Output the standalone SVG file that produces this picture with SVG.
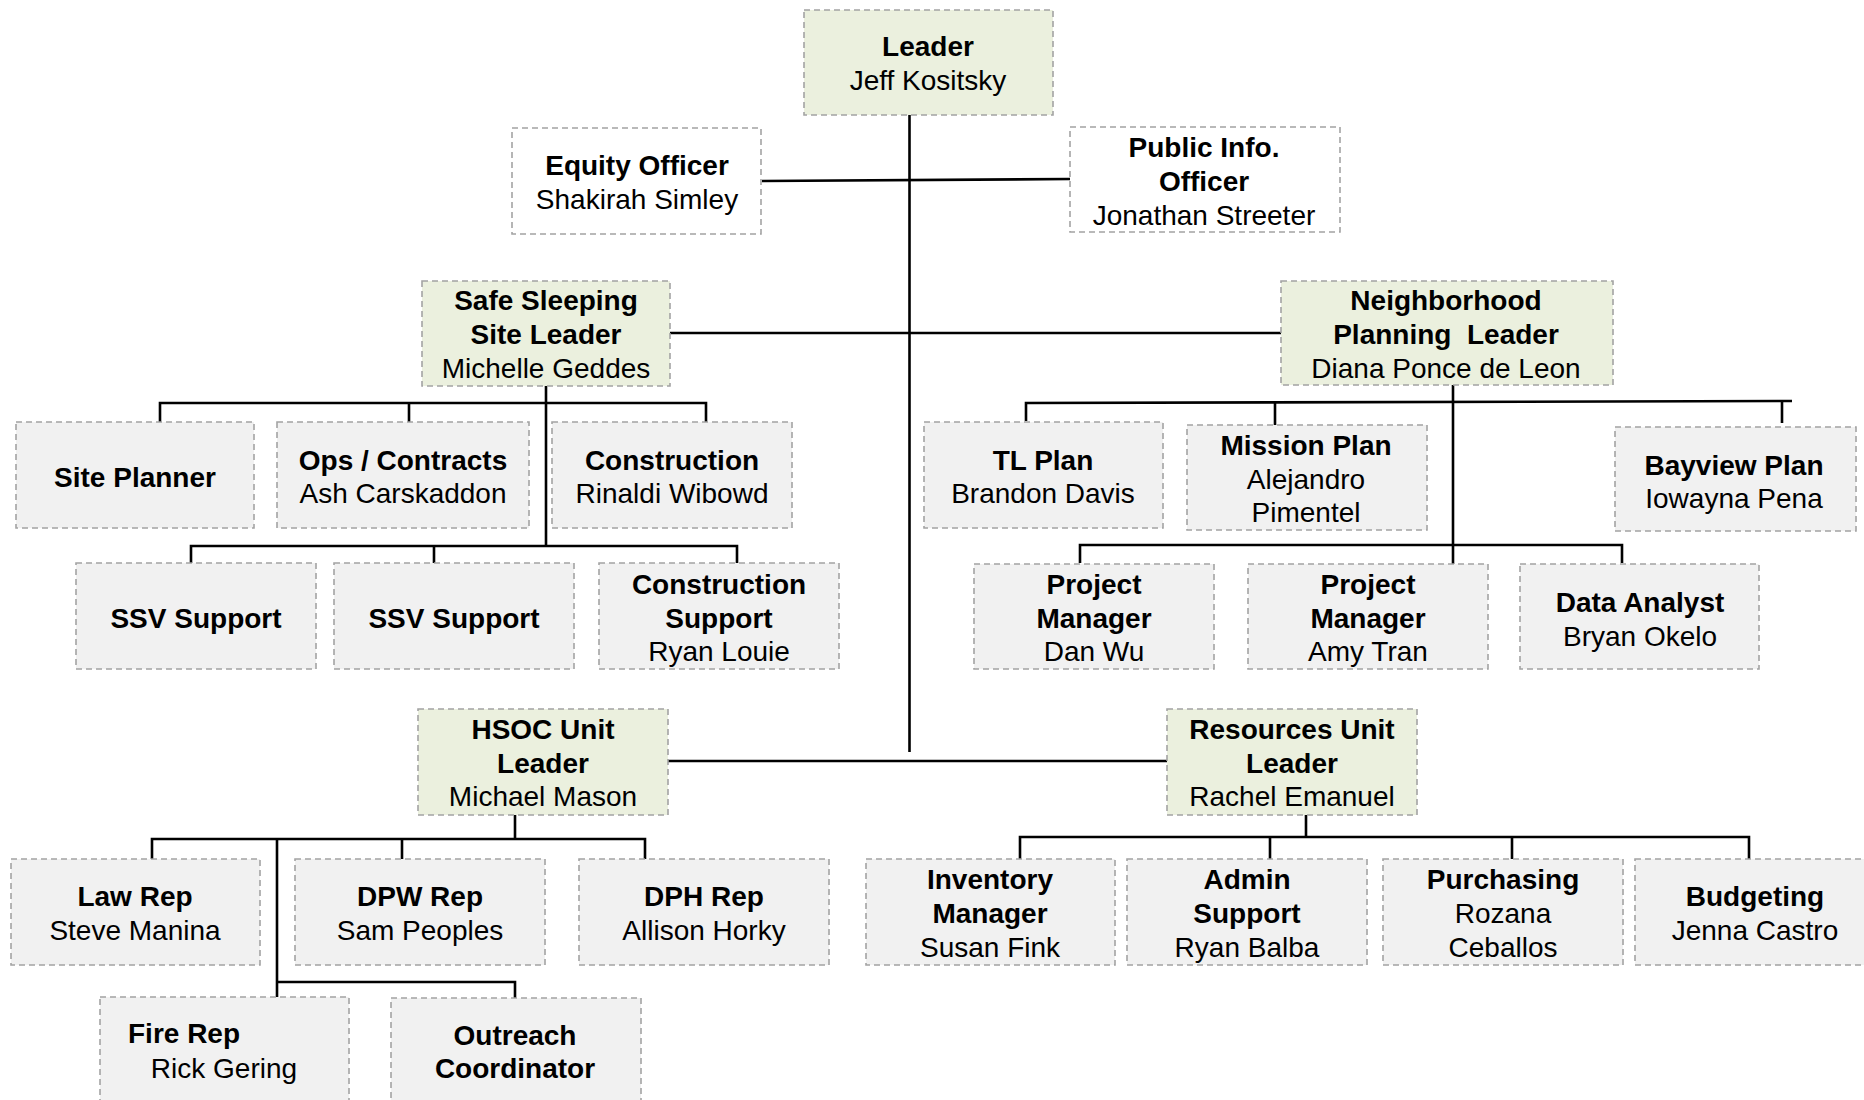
<svg xmlns="http://www.w3.org/2000/svg" width="1864" height="1100" viewBox="0 0 1864 1100">
<style>
rect{stroke:#a3a3a3;stroke-width:1.6;stroke-dasharray:6 4}
.lead{fill:#ebf0de}
.box{fill:#f1f1f1}
.off{fill:#ffffff}
text{font-family:"Liberation Sans",Arial,sans-serif;font-size:28px;fill:#000;text-anchor:middle}
.b{font-weight:bold}
.pre{white-space:pre}
#connectors path{fill:none;stroke:#000;stroke-width:2.6}
</style>
<rect x="0" y="0" width="1864" height="1100" style="fill:#fff;stroke:none"/>
<g id="connectors">
<path d="M909.5,107 V752"/>
<path d="M762,181 L1070,179"/>
<path d="M670,333 H1281"/>
<path d="M546,386 V546"/>
<path d="M160,422 V403 H706 V422 M409,403 V422"/>
<path d="M191,563 V546 H737 V563 M434,546 V565"/>
<path d="M1453,380 V564"/>
<path d="M1026,421 V403 L1792,401 M1275,402 V425 M1782,401 V423"/>
<path d="M1080,563 V545 H1622 V563"/>
<path d="M668,761 H1167"/>
<path d="M515,796 V839 M152,859 V839 H645 V859 M402,839 V859 M277,839 V997 M277,982 H515 V998"/>
<path d="M1306,798 V837 M1020,859 V837 H1749 V859 M1270,837 V859 M1512,837 V859"/>
</g>
<g id="leader"><rect class="lead" x="804" y="10" width="249" height="105"/><text class="b" x="928" y="56">Leader</text><text x="928" y="90">Jeff Kositsky</text></g>
<g id="equity"><rect class="off" x="512" y="128" width="249" height="106"/><text class="b" x="637" y="175">Equity Officer</text><text x="637" y="209">Shakirah Simley</text></g>
<g id="public"><rect class="off" x="1070" y="127" width="270" height="105"/><text class="b" x="1204" y="157">Public Info.</text><text class="b" x="1204" y="191">Officer</text><text x="1204" y="225">Jonathan Streeter</text></g>
<g id="sss"><rect class="lead" x="422" y="281" width="248" height="105"/><text class="b" x="546" y="310">Safe Sleeping</text><text class="b" x="546" y="344">Site Leader</text><text x="546" y="378">Michelle Geddes</text></g>
<g id="npl"><rect class="lead" x="1281" y="281" width="332" height="104"/><text class="b" x="1446" y="310">Neighborhood</text><text class="b pre" x="1446" y="344">Planning  Leader</text><text x="1446" y="378">Diana Ponce de Leon</text></g>
<g id="siteplanner"><rect class="box" x="16" y="422" width="238" height="106"/><text class="b" x="135" y="487">Site Planner</text></g>
<g id="ops"><rect class="box" x="277" y="422" width="252" height="106"/><text class="b" x="403" y="470">Ops / Contracts</text><text x="403" y="503">Ash Carskaddon</text></g>
<g id="construction"><rect class="box" x="552" y="422" width="240" height="106"/><text class="b" x="672" y="470">Construction</text><text x="672" y="503">Rinaldi Wibowd</text></g>
<g id="ssv1"><rect class="box" x="76" y="563" width="240" height="106"/><text class="b" x="196" y="628">SSV Support</text></g>
<g id="ssv2"><rect class="box" x="334" y="563" width="240" height="106"/><text class="b" x="454" y="628">SSV Support</text></g>
<g id="consupport"><rect class="box" x="599" y="563" width="240" height="106"/><text class="b" x="719" y="594">Construction</text><text class="b" x="719" y="628">Support</text><text x="719" y="661">Ryan Louie</text></g>
<g id="tlplan"><rect class="box" x="924" y="422" width="239" height="106"/><text class="b" x="1043" y="470">TL Plan</text><text x="1043" y="503">Brandon Davis</text></g>
<g id="missionplan"><rect class="box" x="1187" y="425" width="240" height="105"/><text class="b" x="1306" y="455">Mission Plan</text><text x="1306" y="489">Alejandro</text><text x="1306" y="522">Pimentel</text></g>
<g id="bayview"><rect class="box" x="1615" y="427" width="241" height="104"/><text class="b" x="1734" y="475">Bayview Plan</text><text x="1734" y="508">Iowayna Pena</text></g>
<g id="pm1"><rect class="box" x="974" y="564" width="240" height="105"/><text class="b" x="1094" y="594">Project</text><text class="b" x="1094" y="628">Manager</text><text x="1094" y="661">Dan Wu</text></g>
<g id="pm2"><rect class="box" x="1248" y="564" width="240" height="105"/><text class="b" x="1368" y="594">Project</text><text class="b" x="1368" y="628">Manager</text><text x="1368" y="661">Amy Tran</text></g>
<g id="dataanalyst"><rect class="box" x="1520" y="564" width="239" height="105"/><text class="b" x="1640" y="612">Data Analyst</text><text x="1640" y="646">Bryan Okelo</text></g>
<g id="hsoc"><rect class="lead" x="418" y="709" width="250" height="106"/><text class="b" x="543" y="739">HSOC Unit</text><text class="b" x="543" y="773">Leader</text><text x="543" y="806">Michael Mason</text></g>
<g id="resources"><rect class="lead" x="1167" y="709" width="250" height="106"/><text class="b" x="1292" y="739">Resources Unit</text><text class="b" x="1292" y="773">Leader</text><text x="1292" y="806">Rachel Emanuel</text></g>
<g id="lawrep"><rect class="box" x="11" y="859" width="249" height="106"/><text class="b" x="135" y="906">Law Rep</text><text x="135" y="940">Steve Manina</text></g>
<g id="dpwrep"><rect class="box" x="295" y="859" width="250" height="106"/><text class="b" x="420" y="906">DPW Rep</text><text x="420" y="940">Sam Peoples</text></g>
<g id="dphrep"><rect class="box" x="579" y="859" width="250" height="106"/><text class="b" x="704" y="906">DPH Rep</text><text x="704" y="940">Allison Horky</text></g>
<g id="firerep"><rect class="box" x="100" y="997" width="249" height="120"/><text class="b" x="128" y="1043" style="text-anchor:start">Fire Rep</text><text x="224" y="1078">Rick Gering</text></g>
<g id="outreach"><rect class="box" x="391" y="998" width="250" height="120"/><text class="b" x="515" y="1045">Outreach</text><text class="b" x="515" y="1078">Coordinator</text></g>
<g id="inventory"><rect class="box" x="866" y="859" width="249" height="106"/><text class="b" x="990" y="889">Inventory</text><text class="b" x="990" y="923">Manager</text><text x="990" y="957">Susan Fink</text></g>
<g id="admin"><rect class="box" x="1127" y="859" width="240" height="106"/><text class="b" x="1247" y="889">Admin</text><text class="b" x="1247" y="923">Support</text><text x="1247" y="957">Ryan Balba</text></g>
<g id="purchasing"><rect class="box" x="1383" y="859" width="240" height="106"/><text class="b" x="1503" y="889">Purchasing</text><text x="1503" y="923">Rozana</text><text x="1503" y="957">Ceballos</text></g>
<g id="budgeting"><rect class="box" x="1635" y="859" width="250" height="106"/><text class="b" x="1755" y="906">Budgeting</text><text x="1755" y="940">Jenna Castro</text></g>
</svg>
